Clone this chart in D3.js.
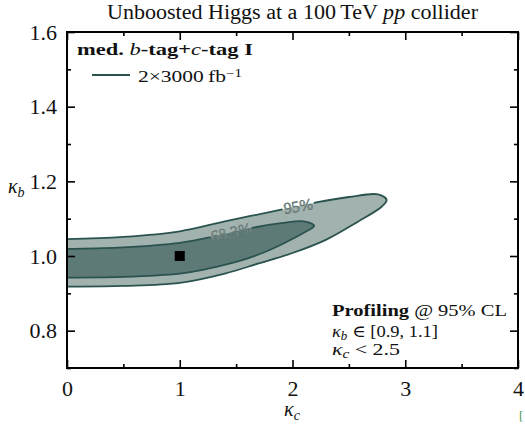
<!DOCTYPE html>
<html>
<head>
<meta charset="utf-8">
<script src="https://cdn.jsdelivr.net/npm/d3@7/dist/d3.min.js"></script>
<style>
  body { margin: 0; background: #fff; }
  svg { display: block; }
  text { font-family: "Liberation Serif", "DejaVu Serif", serif; fill: #111; }
</style>
</head>
<body>
<svg id="chart" width="525" height="424"></svg>
<script>
// Axis ticks
const kcTicks = [0, 1, 2, 3, 4];
const kcMinor = [0.5, 1.5, 2.5, 3.5];
const kbTicks = [0.8, 1.0, 1.2, 1.4, 1.6];
const kbMinor = [0.7, 0.9, 1.1, 1.3, 1.5];

// 95% CL region boundary (kappa_c, kappa_b), closed loop
const contour95 = [
  [-1.0, 0.98], [-0.6, 1.044], [0.0, 1.045], [0.5, 1.051], [1.0, 1.066], [1.42, 1.094],
  [1.9, 1.124], [2.2, 1.143], [2.5, 1.158], [2.76, 1.165], [2.835, 1.150],
  [2.79, 1.132], [2.58, 1.092], [2.3, 1.044], [2.0, 1.008], [1.7, 0.980],
  [1.4, 0.953], [1.0, 0.928], [0.5, 0.920], [0.0, 0.918], [-0.6, 0.918]
];

// 68.3% CL region boundary, closed loop
const contour68 = [
  [-0.8, 0.98], [-0.5, 1.018], [0.0, 1.019], [0.5, 1.023], [1.0, 1.035], [1.3, 1.052],
  [1.6, 1.073], [1.9, 1.088], [2.1, 1.093], [2.193, 1.081], [2.1, 1.062],
  [1.95, 1.038], [1.75, 1.010], [1.5, 0.984], [1.25, 0.966], [1.0, 0.953],
  [0.5, 0.944], [0.0, 0.942], [-0.5, 0.942]
];

// Standard Model point
const bestFit = [[1.0, 1.0]];

// Contour labels: text, position on the line, rotation
const contourLabels = [
  { text: "95%",   kc: 2.05,  kb: 1.134, angle: -10, w: 32, h: 14 },
  { text: "68.3%", kc: 1.455, kb: 1.064, angle: -12, w: 42, h: 14 }
];

const W = 525, H = 424;
const m = { left: 67, right: 7, top: 32, bottom: 56 };
const x = d3.scaleLinear().domain([0, 4]).range([m.left, W - m.right]);
const y = d3.scaleLinear().domain([0.7, 1.6]).range([H - m.bottom, m.top]);

const svg = d3.select("#chart");
const defs = svg.append("defs");

defs.append("clipPath").attr("id", "plotClip")
  .append("rect")
  .attr("x", x(0)).attr("y", y(1.6))
  .attr("width", x(4) - x(0)).attr("height", y(0.7) - y(1.6));

// Mask that opens gaps in the contour lines where labels sit
const mask = defs.append("mask").attr("id", "labelGaps")
  .attr("maskUnits", "userSpaceOnUse")
  .attr("x", 0).attr("y", 0).attr("width", W).attr("height", H);
mask.append("rect").attr("x", 0).attr("y", 0).attr("width", W).attr("height", H).attr("fill", "#fff");
contourLabels.forEach(l => {
  mask.append("rect")
    .attr("x", -l.w / 2).attr("y", -l.h / 2).attr("width", l.w).attr("height", l.h)
    .attr("fill", "#000")
    .attr("transform", `translate(${x(l.kc)},${y(l.kb)}) rotate(${l.angle})`);
});

const line = d3.line().x(d => x(d[0])).y(d => y(d[1])).curve(d3.curveCatmullRomClosed.alpha(0.5));

const plot = svg.append("g").attr("clip-path", "url(#plotClip)");
plot.append("path").attr("d", line(contour95)).attr("fill", "#a2b2af");
plot.append("path").attr("d", line(contour68)).attr("fill", "#5e7a77");

const strokes = plot.append("g").attr("mask", "url(#labelGaps)");
strokes.append("path").attr("d", line(contour95)).attr("fill", "none")
  .attr("stroke", "#2a5350").attr("stroke-width", 1.8);
strokes.append("path").attr("d", line(contour68)).attr("fill", "none")
  .attr("stroke", "#2a5350").attr("stroke-width", 1.8);

plot.selectAll("text.clabel").data(contourLabels).join("text")
  .attr("class", "clabel")
  .attr("transform", d => `translate(${x(d.kc)},${y(d.kb)}) rotate(${d.angle})`)
  .attr("text-anchor", "middle").attr("dy", "0.35em")
  .style("font-size", "16px").style("fill", "#8a9b98")
  .style("stroke", "#5b6f6c").style("stroke-width", 0.5)
  .style("font-family", "'Liberation Serif', serif")
  .text(d => d.text);

plot.selectAll("rect.bf").data(bestFit).join("rect")
  .attr("class", "bf")
  .attr("x", d => x(d[0]) - 5).attr("y", d => y(d[1]) - 5)
  .attr("width", 10).attr("height", 10).attr("fill", "#000");

// Axes with inward ticks on all four sides
function styleAxis(g) {
  g.attr("font-family", null).attr("font-size", null);
  g.select(".domain").remove();
  g.selectAll(".tick line").attr("stroke", "#000").attr("stroke-width", 1.6);
  g.selectAll(".tick text")
    .style("font-size", "22px")
    .style("font-family", "'Liberation Serif', serif")
    .attr("fill", "#111");
}
const bottomY = y(0.7), topY = y(1.6), leftX = x(0), rightX = x(4);

svg.append("g").attr("transform", `translate(0,${bottomY})`)
  .call(d3.axisBottom(x).tickValues(kcTicks).tickSize(-8).tickPadding(12).tickFormat(d3.format("d")))
  .call(styleAxis);
svg.append("g").attr("transform", `translate(0,${bottomY})`)
  .call(d3.axisBottom(x).tickValues(kcMinor).tickSize(-4).tickFormat(""))
  .call(styleAxis);
svg.append("g").attr("transform", `translate(0,${topY})`)
  .call(d3.axisTop(x).tickValues(kcTicks).tickSize(-8).tickFormat(""))
  .call(styleAxis);
svg.append("g").attr("transform", `translate(0,${topY})`)
  .call(d3.axisTop(x).tickValues(kcMinor).tickSize(-4).tickFormat(""))
  .call(styleAxis);

svg.append("g").attr("transform", `translate(${leftX},0)`)
  .call(d3.axisLeft(y).tickValues(kbTicks).tickSize(-8).tickPadding(10).tickFormat(d3.format(".1f")))
  .call(styleAxis);
svg.append("g").attr("transform", `translate(${leftX},0)`)
  .call(d3.axisLeft(y).tickValues(kbMinor).tickSize(-4).tickFormat(""))
  .call(styleAxis);
svg.append("g").attr("transform", `translate(${rightX},0)`)
  .call(d3.axisRight(y).tickValues(kbTicks).tickSize(-8).tickFormat(""))
  .call(styleAxis);
svg.append("g").attr("transform", `translate(${rightX},0)`)
  .call(d3.axisRight(y).tickValues(kbMinor).tickSize(-4).tickFormat(""))
  .call(styleAxis);

// Frame
svg.append("rect")
  .attr("x", leftX).attr("y", topY)
  .attr("width", rightX - leftX).attr("height", bottomY - topY)
  .attr("fill", "none").attr("stroke", "#000").attr("stroke-width", 2);

// Rich text runs, optionally stretched to a set width
function rich(xp, yp, runs, size, anchor, width) {
  const t = svg.append("text").attr("x", xp).attr("y", yp)
    .style("font-size", size + "px").attr("text-anchor", anchor || "start");
  if (width) t.attr("textLength", width).attr("lengthAdjust", "spacingAndGlyphs");
  runs.forEach(r => {
    const s = t.append("tspan").text(r.t);
    if (r.i) s.style("font-style", "italic");
    if (r.b) s.style("font-weight", "bold");
    if (r.sub) s.attr("baseline-shift", "-25%").style("font-size", (size * 0.7) + "px");
    if (r.sup) s.attr("baseline-shift", "40%").style("font-size", (size * 0.7) + "px");
  });
  return t;
}

// Title
rich((leftX + rightX) / 2, 19, [
  { t: "Unboosted Higgs at a 100\u2009TeV " }, { t: "pp", i: true }, { t: " collider" }
], 20, "middle", 371);

// Legend
rich(77, 55, [
  { t: "med. ", b: true }, { t: "b", i: true }, { t: "-tag+", b: true },
  { t: "c", i: true }, { t: "-tag I", b: true }
], 17, "start", 176);
svg.append("line").attr("x1", 92).attr("x2", 130).attr("y1", 75).attr("y2", 75)
  .attr("stroke", "#2a5350").attr("stroke-width", 2);
rich(138, 82, [{ t: "2\u00d73000\u2009fb" }, { t: "\u22121", sup: true }], 17, "start", 104);

// Profiling note
rich(332, 316, [{ t: "Profiling", b: true }, { t: " @ 95% CL" }], 17, "start", 175);
rich(332, 337, [{ t: "\u03ba", i: true }, { t: "b", i: true, sub: true }, { t: " \u2208 [0.9, 1.1]" }], 17, "start", 106);
rich(332, 355, [{ t: "\u03ba", i: true }, { t: "c", i: true, sub: true }, { t: " < 2.5" }], 17, "start", 68);

// Axis titles
rich(292, 416, [{ t: "\u03ba", i: true }, { t: "c", i: true, sub: true }], 20, "middle");
rich(8, 193, [{ t: "\u03ba", i: true }, { t: "b", i: true, sub: true }], 20);

// Reference marker at the page edge
svg.append("text").attr("x", 519).attr("y", 420).style("font-size", "13px")
  .style("fill", "#4c9a4c").text("[");
</script>
</body>
</html>
